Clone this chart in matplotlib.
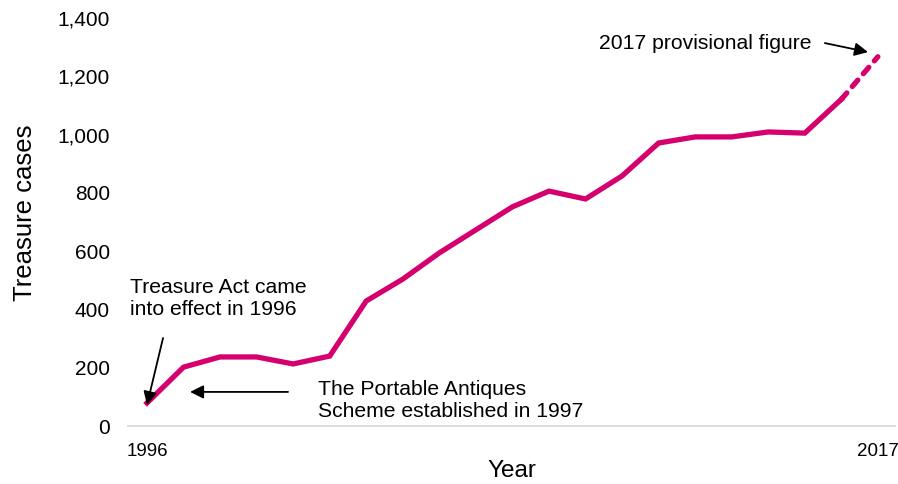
import matplotlib
matplotlib.use('Agg')
import matplotlib.pyplot as plt

plt.rcParams['font.family'] = ['Liberation Sans', 'DejaVu Sans']

# Daten
cases = [79, 202, 237, 237, 213, 240, 429, 504, 594, 673, 752, 806, 779,
         858, 971, 992, 992, 1009, 1005, 1121, 1267]
x_labels = ['1996', '2017']
y_ticks = [0, 200, 400, 600, 800, 1000, 1200, 1400]

line_color = '#D5006D'

fig = plt.figure(figsize=(8.98, 4.84), dpi=100)
ax = fig.add_axes([0.1425, 0.1198, 0.8542, 0.843])

idx = list(range(len(cases)))
# durchgezogen bis 2016, gestrichelt für den vorläufigen Wert 2017
ax.plot(idx[:-1], cases[:-1], color=line_color, lw=3.8, solid_joinstyle='miter')
ax.plot(idx[-2:], cases[-2:], color=line_color, lw=3.8,
        linestyle=(0, (1.6, 1.6)), dash_capstyle='round')

ax.set_xlim(-0.52, len(cases) - 1 + 0.47)
ax.set_ylim(0, 1400)
ax.set_yticks(y_ticks)
ax.set_yticklabels([f'{v:,}' for v in y_ticks])
ax.set_xticks([0, len(cases) - 1])
ax.set_xticklabels(x_labels)

ax.tick_params(axis='y', length=0, labelsize=15, pad=13, colors='#000000')
ax.tick_params(axis='x', length=0, labelsize=13.5, pad=12)

for s in ['top', 'right', 'left']:
    ax.spines[s].set_visible(False)
ax.spines['bottom'].set_color('#D9D9D9')
ax.spines['bottom'].set_linewidth(1.3)

ax.set_ylabel('Treasure cases', fontsize=18.5)
ax.yaxis.set_label_coords(-0.119, 0.522)
ax.set_xlabel('Year', fontsize=17.5)
ax.xaxis.set_label_coords(0.5, -0.084)

arrow = dict(arrowstyle='-|>', color='black', lw=1.3, mutation_scale=20,
             shrinkA=0, shrinkB=0)

ax.annotate('', xy=(0, 72), xytext=(0.44, 302), arrowprops=arrow)
ax.text(-0.47, 439, 'Treasure Act came\ninto effect in 1996', fontsize=15.2,
        ha='left', va='center', linespacing=1.2)

ax.annotate('', xy=(1.18, 117), xytext=(3.86, 117), arrowprops=arrow)
ax.text(4.68, 89, 'The Portable Antiques\nScheme established in 1997', fontsize=15.2,
        ha='left', va='center', linespacing=1.2)

ax.annotate('', xy=(19.73, 1283), xytext=(18.55, 1314), arrowprops=arrow)
ax.text(18.19, 1311, '2017 provisional figure', fontsize=15.2, ha='right', va='center')

fig.savefig('out.png', dpi=100)
